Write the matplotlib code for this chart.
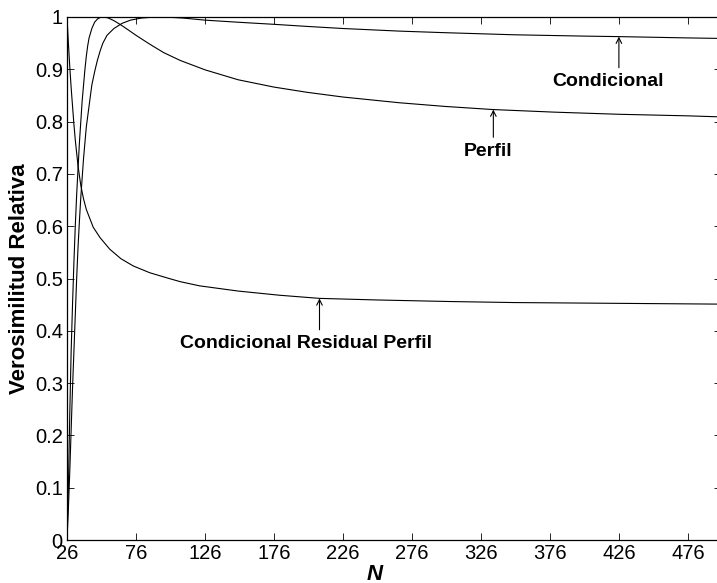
import matplotlib
matplotlib.use('Agg')
import matplotlib.pyplot as plt

plt.rcParams['font.family'] = ['Liberation Sans', 'DejaVu Sans']

# Relative likelihood curves for N
n_perfil = [26, 27, 28, 29, 30, 31, 32, 33, 34, 35, 36, 37, 38, 39, 40, 41, 42, 44, 46, 48,
            50, 53, 56, 60, 65, 70, 76, 86, 96, 108, 126, 150, 176, 200, 226, 267, 300,
            335, 380, 426, 476, 500]
perfil = [0.0, 0.10, 0.24, 0.36, 0.45, 0.53, 0.60, 0.66, 0.71, 0.76, 0.80, 0.84, 0.87,
          0.90, 0.925, 0.945, 0.96, 0.978, 0.99, 0.996, 0.999, 1.0, 0.998, 0.993, 0.985,
          0.976, 0.965, 0.948, 0.932, 0.917, 0.899, 0.880, 0.866, 0.856, 0.847, 0.836,
          0.829, 0.823, 0.818, 0.814, 0.811, 0.809]

n_cond = [26, 27, 28, 29, 30, 31, 32, 33, 34, 35, 36, 38, 40, 42, 44, 46, 48, 50, 52, 55,
          60, 66, 72, 80, 90, 100, 110, 126, 150, 176, 200, 226, 267, 300, 350, 400, 426,
          476, 500]
condicional = [0.0, 0.06, 0.13, 0.21, 0.29, 0.36, 0.43, 0.50, 0.56, 0.61, 0.655, 0.73,
               0.79, 0.83, 0.87, 0.895, 0.917, 0.935, 0.95, 0.965, 0.978, 0.988, 0.994,
               0.998, 1.0, 0.9995, 0.998, 0.994, 0.99, 0.986, 0.982, 0.978, 0.973, 0.970,
               0.966, 0.9635, 0.9625, 0.960, 0.959]

n_crp = [26, 27, 28, 29, 30, 31, 32, 33, 34, 36, 38, 40, 45, 50, 57, 65, 74, 86, 100, 108,
         122, 150, 180, 209, 250, 303, 350, 400, 450, 500]
crp = [1.0, 0.95, 0.905, 0.865, 0.83, 0.795, 0.765, 0.74, 0.715, 0.678, 0.652, 0.632,
       0.598, 0.578, 0.556, 0.538, 0.524, 0.511, 0.500, 0.494, 0.486, 0.476, 0.468, 0.462,
       0.459, 0.456, 0.454, 0.453, 0.452, 0.451]

xticks = [26, 76, 126, 176, 226, 276, 326, 376, 426, 476]
yticks = [0, 0.1, 0.2, 0.3, 0.4, 0.5, 0.6, 0.7, 0.8, 0.9, 1]
ytick_labels = ['0', '0.1', '0.2', '0.3', '0.4', '0.5', '0.6', '0.7', '0.8', '0.9', '1']

# label text, arrow at N, arrow head value, arrow tail value, label centre N
notes = [
    ('Condicional', 426, 0.9625, 0.903, 418),
    ('Perfil', 335, 0.823, 0.770, 331),
    ('Condicional Residual Perfil', 209, 0.462, 0.402, 199),
]

fig = plt.figure(figsize=(7.17, 5.83), dpi=100)
ax = fig.add_axes([67 / 717, 43 / 583, 654 / 717, 523 / 583])

ax.plot(n_perfil, perfil, color='black', lw=0.8)
ax.plot(n_cond, condicional, color='black', lw=0.8)
ax.plot(n_crp, crp, color='black', lw=0.8)

ax.set_xlim(26, 500)
ax.set_ylim(0, 1)
ax.set_xticks(xticks)
ax.set_xticklabels([str(t) for t in xticks])
ax.set_yticks(yticks)
ax.set_yticklabels(ytick_labels)
ax.tick_params(direction='in', top=True, right=True, length=5, width=0.6,
               labelsize=14.5, pad=3)
for s in ax.spines.values():
    s.set_linewidth(0.9)

ax.set_ylabel('Verosimilitud Relativa', fontsize=16, fontweight='bold')
ax.yaxis.set_label_coords(-0.057, 0.5)
ax.set_xlabel('N', fontsize=16, fontweight='bold', style='italic')
ax.xaxis.set_label_coords(0.471, -0.045)

for label, nx, tip, tail, tx in notes:
    ax.annotate('', xy=(nx, tip), xytext=(nx, tail),
                arrowprops=dict(arrowstyle='->', color='black', lw=0.8,
                                shrinkA=0, shrinkB=0))
    ax.text(tx, tail - 0.01, label, ha='center', va='top',
            fontsize=14, fontweight='bold')

fig.savefig('out.png', dpi=100)
